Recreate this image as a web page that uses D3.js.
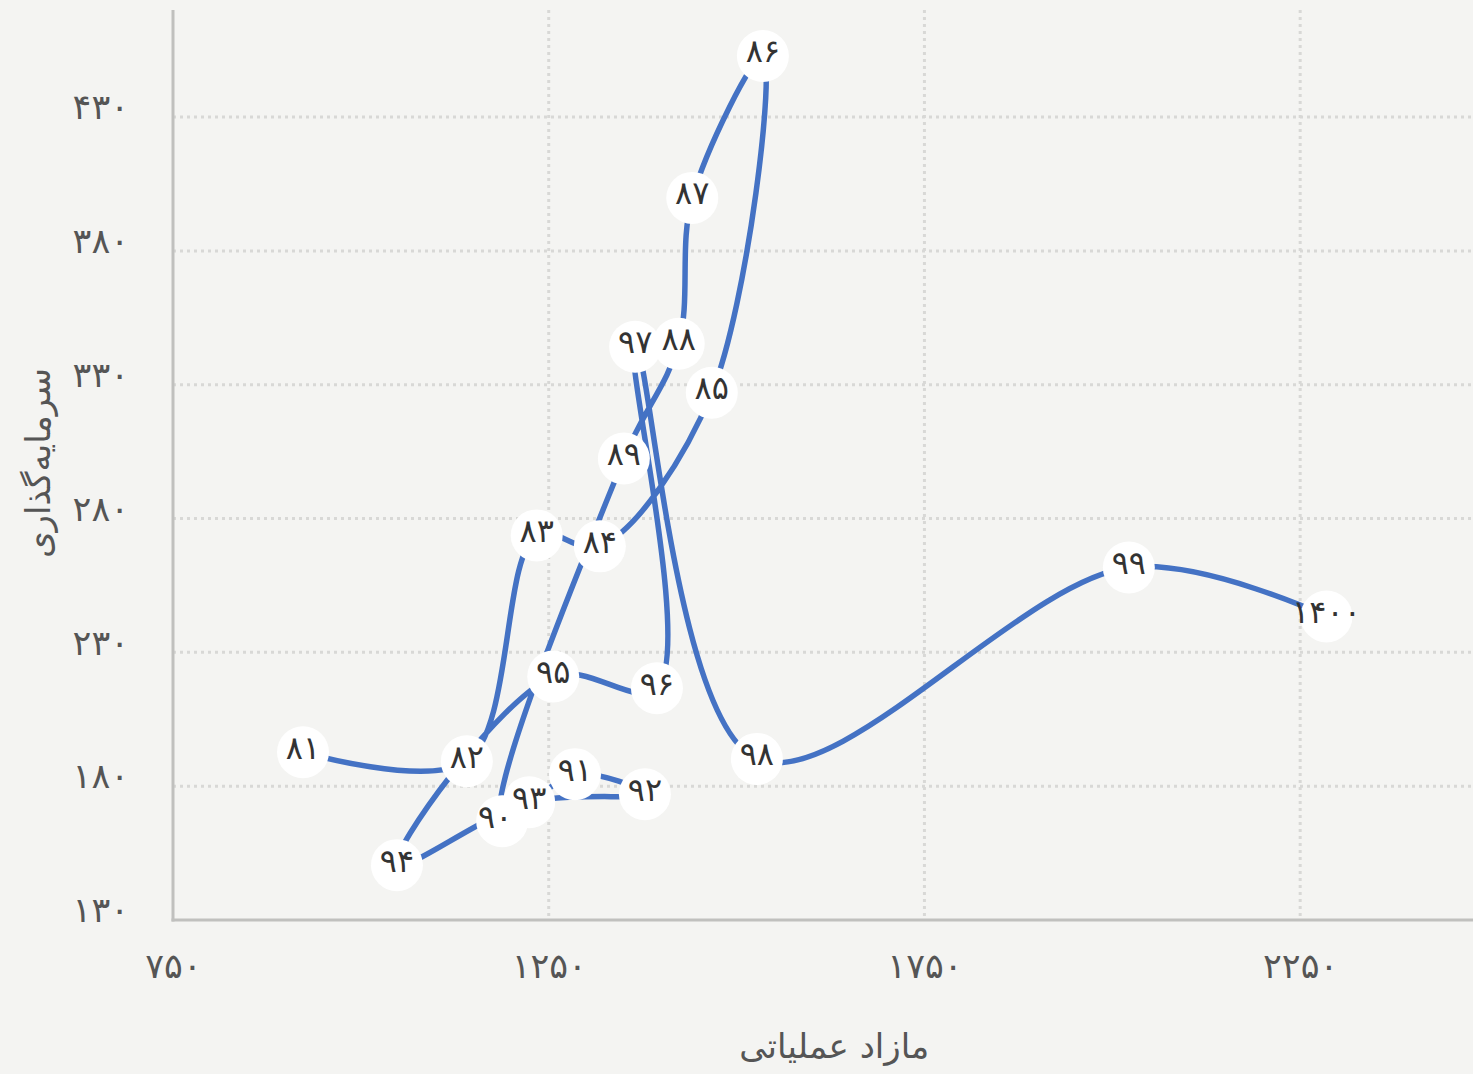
<!DOCTYPE html>
<html>
<head>
<meta charset="utf-8">
<script src="https://cdn.jsdelivr.net/npm/d3@7"></script>
<style>
  html, body { margin: 0; padding: 0; background: #f4f4f2; }
  text { font-family: "DejaVu Sans", sans-serif; }
</style>
</head>
<body>
<div id="chart"></div>
<script>
var svgWidth = 1473;
var svgHeight = 1074;

var margin = { top: 10, right: 0, bottom: 154, left: 173 };
var width = svgWidth - margin.left - margin.right;
var height = svgHeight - margin.top - margin.bottom;

// year labels (Persian) and values
var years = ["۸۱", "۸۲", "۸۳", "۸۴", "۸۵", "۸۶", "۸۷", "۸۸", "۸۹", "۹۰",
  "۹۱", "۹۲", "۹۳", "۹۴", "۹۵", "۹۶", "۹۷", "۹۸", "۹۹", "۱۴۰۰"];
var surplus = [923, 1141, 1234, 1318, 1467, 1535, 1441, 1423, 1350, 1188,
  1285, 1378, 1224, 1048, 1256, 1394, 1365, 1527, 2022, 2285];
var investment = [192.7, 189.3, 273.7, 269.6, 327, 452.8, 399.8, 345.3, 302.4, 166.9,
  184.5, 177, 174, 150.5, 221, 216.6, 344.2, 190.2, 261.7, 243.4];

var xTicks = [750, 1250, 1750, 2250];
var yTicks = [130, 180, 230, 280, 330, 380, 430];

var faDigits = "۰۱۲۳۴۵۶۷۸۹";
function fa(n) {
  return String(n).replace(/[0-9]/g, d => faDigits[+d]);
}

var data = years.map((y, i) => ({ year: y, x: surplus[i], y: investment[i] }));

var svg = d3.select("#chart")
  .append("svg")
  .attr("width", svgWidth)
  .attr("height", svgHeight)
  .style("display", "block");

svg.append("rect")
  .attr("width", svgWidth)
  .attr("height", svgHeight)
  .attr("fill", "#f4f4f2");

var chartGroup = svg.append("g")
  .attr("transform", `translate(${margin.left}, ${margin.top})`);

var xScale = d3.scaleLinear().domain([750, 2480]).range([0, width]);
var yScale = d3.scaleLinear().domain([130, 470]).range([height, 0]);

// grid lines
chartGroup.append("g")
  .selectAll("line")
  .data(xTicks.slice(1))
  .enter()
  .append("line")
  .attr("x1", d => xScale(d))
  .attr("x2", d => xScale(d))
  .attr("y1", 0)
  .attr("y2", height)
  .attr("stroke", "#d8d8d6")
  .attr("stroke-width", 3)
  .attr("stroke-dasharray", "3 4");

chartGroup.append("g")
  .selectAll("line")
  .data(yTicks.slice(1))
  .enter()
  .append("line")
  .attr("x1", 0)
  .attr("x2", width)
  .attr("y1", d => yScale(d))
  .attr("y2", d => yScale(d))
  .attr("stroke", "#d8d8d6")
  .attr("stroke-width", 3)
  .attr("stroke-dasharray", "3 4");

// axes
var bottomAxis = d3.axisBottom(xScale)
  .tickValues(xTicks)
  .tickSize(0)
  .tickPadding(42)
  .tickFormat(fa);

var leftAxis = d3.axisLeft(yScale)
  .tickValues(yTicks)
  .tickSize(0)
  .tickPadding(44)
  .tickFormat(fa);

var xAxis = chartGroup.append("g")
  .attr("transform", `translate(0, ${height})`)
  .call(bottomAxis);

var yAxis = chartGroup.append("g")
  .call(leftAxis);

[xAxis, yAxis].forEach(function(ax) {
  ax.select(".domain").remove();
  ax.selectAll("text")
    .attr("fill", "#555")
    .style("font-size", "35px")
    .style("font-family", "DejaVu Sans, sans-serif");
});
yAxis.selectAll("text").attr("dy", "0.05em");
xAxis.selectAll("text").attr("dy", "0.45em");

chartGroup.append("line")
  .attr("x1", 0).attr("x2", 0)
  .attr("y1", 0).attr("y2", height + 1.5)
  .attr("stroke", "#c0c0be")
  .attr("stroke-width", 3);

chartGroup.append("line")
  .attr("x1", -1.5).attr("x2", width)
  .attr("y1", height).attr("y2", height)
  .attr("stroke", "#c0c0be")
  .attr("stroke-width", 3);

// axis titles
svg.append("text")
  .attr("x", margin.left + xScale(1630))
  .attr("y", 1058)
  .attr("text-anchor", "middle")
  .attr("fill", "#555")
  .style("font-size", "34px")
  .text("مازاد عملیاتی");

svg.append("text")
  .attr("transform", "translate(50, 463) rotate(-90)")
  .attr("text-anchor", "middle")
  .attr("fill", "#555")
  .style("font-size", "34px")
  .text("سرمایه‌گذاری");

// the line
var line = d3.line()
  .x(d => xScale(d.x))
  .y(d => yScale(d.y))
  .curve(d3.curveCatmullRom.alpha(0.5));

chartGroup.append("path")
  .datum(data)
  .attr("d", line)
  .attr("fill", "none")
  .attr("stroke", "#4472c4")
  .attr("stroke-width", 5.5)
  .attr("stroke-linejoin", "round");

// label bubbles: all circles first, then all texts on top
chartGroup.append("g")
  .selectAll("circle")
  .data(data)
  .enter()
  .append("circle")
  .attr("cx", d => xScale(d.x))
  .attr("cy", d => yScale(d.y))
  .attr("r", 26)
  .attr("fill", "#ffffff");

chartGroup.append("g")
  .selectAll("text")
  .data(data)
  .enter()
  .append("text")
  .attr("x", d => xScale(d.x))
  .attr("y", d => yScale(d.y))
  .attr("text-anchor", "middle")
  .attr("dy", "0.2em")
  // small nudge so the crowded ۹۰ / ۹۳ pair stays readable
  .attr("dx", d => d.year === "۹۰" ? -7 : 0)
  .attr("fill", "#333")
  .style("font-size", "32px")
  .text(d => d.year);
</script>
</body>
</html>
